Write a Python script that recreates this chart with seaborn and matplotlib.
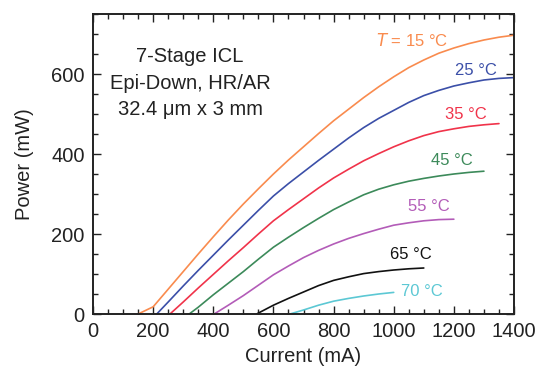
import matplotlib
matplotlib.use("Agg")
import matplotlib.pyplot as plt
import seaborn as sns
import pandas as pd
from matplotlib.ticker import MultipleLocator

sns.set_theme(style="ticks")
plt.rcParams['font.family'] = ['Liberation Sans', 'DejaVu Sans']

# ---- data (current in mA, power in mW) ----
i_15 = [150, 200, 250, 300, 350, 400, 450, 500, 550, 600, 650, 700, 750, 800, 850,
        900, 950, 1000, 1050, 1100, 1150, 1200, 1250, 1300, 1350, 1400]
p_15 = [0, 18, 62, 106, 150, 193, 235, 275, 313, 350, 385, 418, 451, 483, 512,
        541, 568, 593, 616, 635, 652, 665, 676, 685, 692, 697]
i_25 = [212, 250, 300, 350, 400, 450, 500, 550, 600, 650, 700, 750, 800, 850,
        900, 950, 1000, 1050, 1100, 1150, 1200, 1250, 1300, 1350, 1400]
p_25 = [0, 30, 70, 109, 147, 185, 222, 259, 295, 326, 355, 384, 412, 440,
        466, 489, 509, 529, 546, 559, 570, 578, 585, 589, 591]
i_35 = [256, 300, 350, 400, 450, 500, 550, 600, 650, 700, 750, 800, 850,
        900, 950, 1000, 1050, 1100, 1150, 1200, 1250, 1300, 1350]
p_35 = [0, 30, 65, 99, 133, 166, 200, 233, 261, 288, 315, 340, 362,
        383, 401, 418, 433, 446, 456, 463, 469, 473, 476]
i_45 = [320, 350, 400, 450, 500, 550, 600, 650, 700, 750, 800, 850,
        900, 950, 1000, 1050, 1100, 1150, 1200, 1250, 1300]
p_45 = [0, 17, 48, 77, 106, 137, 167, 192, 216, 239, 261, 280,
        298, 312, 323, 332, 339, 345, 350, 354, 357]
i_55 = [403, 450, 500, 550, 600, 650, 700, 750, 800, 850, 900, 950,
        1000, 1050, 1100, 1150, 1200]
p_55 = [0, 22, 46, 72, 98, 120, 141, 159, 175, 189, 201, 212,
        222, 228, 233, 236, 237]
i_65 = [544, 600, 650, 700, 750, 800, 850, 900, 950, 1000, 1050, 1100]
p_65 = [0, 22, 39, 55, 71, 84, 93, 101, 106, 110, 113, 115]
i_70 = [655, 700, 750, 800, 850, 900, 950, 1000]
p_70 = [0, 10, 22, 32, 39, 45, 50, 54]

temps = ["15", "25", "35", "45", "55", "65", "70"]
currents = [i_15, i_25, i_35, i_45, i_55, i_65, i_70]
powers = [p_15, p_25, p_35, p_45, p_55, p_65, p_70]
colors = ["#F98B4E", "#3B4FA8", "#F0334A", "#3C8A5A", "#B35CB8", "#111111", "#5CC8D4"]
labels = ["$\\it{T}$ = 15 °C", "25 °C", "35 °C", "45 °C", "55 °C", "65 °C", "70 °C"]
label_x = [1061, 1274, 1240, 1195, 1117, 1058, 1095]
label_y = [685, 610, 500, 385, 268, 148, 55]

rows = []
for t, cs, ps in zip(temps, currents, powers):
    for c, p in zip(cs, ps):
        rows.append({"T": t, "Current": c, "Power": p})
df = pd.DataFrame(rows)

fig = plt.figure(figsize=(5.49, 3.72), dpi=100)
ax = fig.add_axes([93/549, 1-314/372, (514-93)/549, (314-14)/372])

sns.lineplot(data=df, x="Current", y="Power", hue="T", palette=colors,
             legend=False, ax=ax, linewidth=1.2, sort=True, estimator=None)

for lab, lx, ly, col in zip(labels, label_x, label_y, colors):
    ax.text(lx, ly, lab, color=col, fontsize=12, ha="center", va="center")

ax.text(323, 577, "7-Stage ICL\nEpi-Down, HR/AR\n32.4 μm x 3 mm", fontsize=14.5,
        ha="center", va="center", color="#222222", linespacing=1.5)

ax.set_xlim(0, 1400)
ax.set_ylim(0, 750)
ax.xaxis.set_major_locator(MultipleLocator(200))
ax.xaxis.set_minor_locator(MultipleLocator(50))
ax.yaxis.set_major_locator(MultipleLocator(200))
ax.yaxis.set_minor_locator(MultipleLocator(50))
ax.tick_params(which="both", direction="in", top=True, right=True, labelsize=14.5,
               colors="#222222", width=1.0, pad=6)
ax.tick_params(which="major", length=6)
ax.tick_params(which="minor", length=3.5)
for s in ax.spines.values():
    s.set_linewidth(1.4)
    s.set_color("#222222")
ax.set_xlabel("Current (mA)", fontsize=14.5, color="#222222", labelpad=4)
ax.set_ylabel("Power (mW)", fontsize=14.5, color="#222222", labelpad=12)

fig.savefig("out.png", dpi=100)
